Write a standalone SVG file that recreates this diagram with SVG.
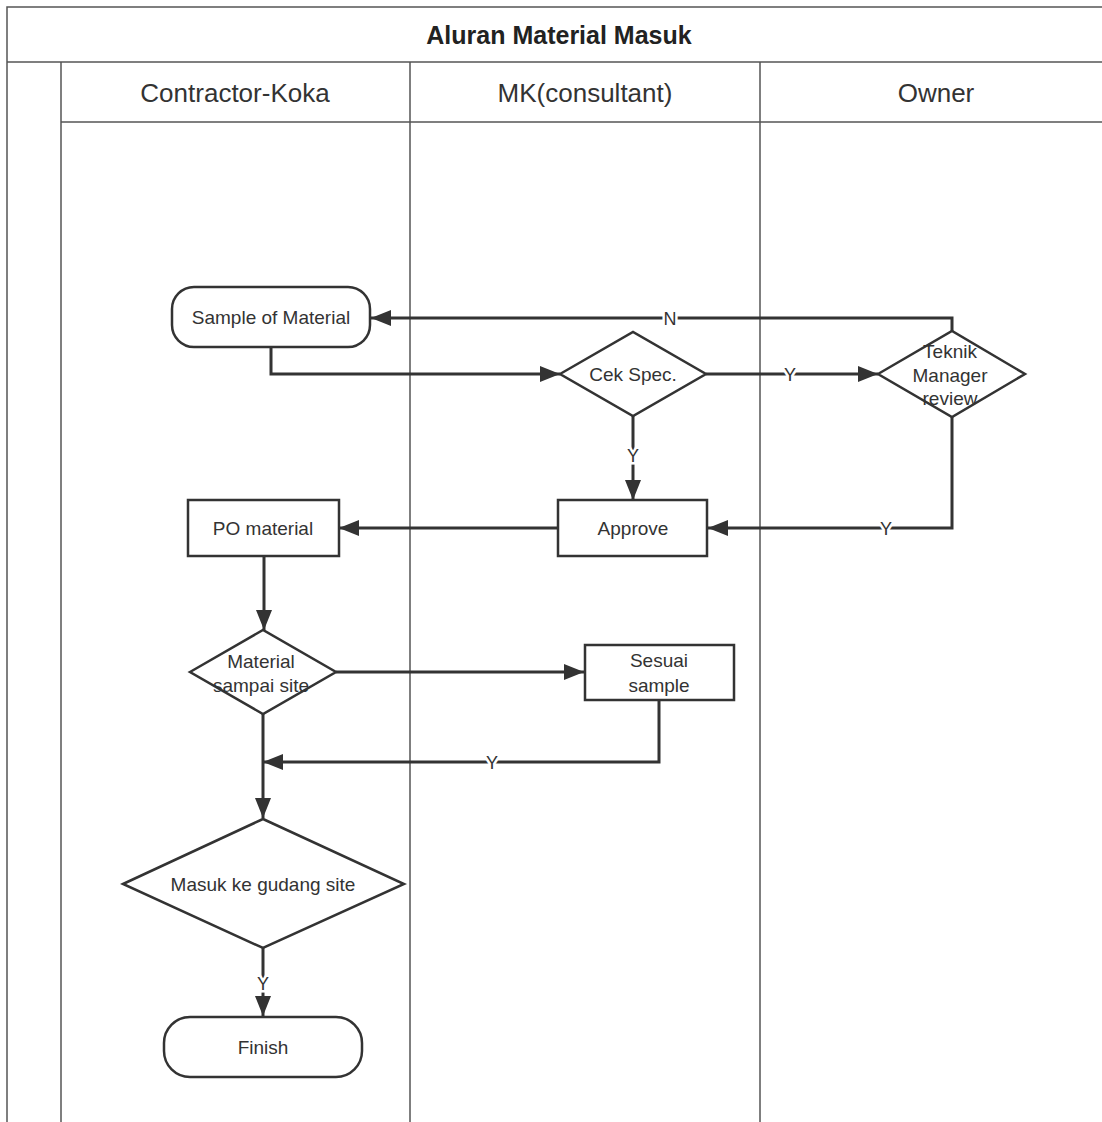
<svg xmlns="http://www.w3.org/2000/svg" width="1102" height="1122" viewBox="0 0 1102 1122">
<style>
.frame{fill:none;stroke:#555;stroke-width:1.5}
.node{fill:#fff;stroke:#333;stroke-width:2.5}
.conn{fill:none;stroke:#333;stroke-width:3}
.t{font-family:"Liberation Sans",Arial,sans-serif;font-size:19px;fill:#333;text-anchor:middle}
.h{font-family:"Liberation Sans",Arial,sans-serif;font-size:26px;fill:#333;text-anchor:middle}
.title{font-family:"Liberation Sans",Arial,sans-serif;font-size:25px;font-weight:bold;fill:#222;text-anchor:middle}
.lbl{font-family:"Liberation Sans",Arial,sans-serif;font-size:18px;fill:#333;text-anchor:middle;stroke:#fff;stroke-width:5;paint-order:stroke}
</style>
<defs>
<marker id="arr" markerUnits="userSpaceOnUse" markerWidth="20" markerHeight="16" viewBox="0 0 20 16" refX="20" refY="8" orient="auto">
<path d="M0,0 L20,8 L0,16 Z" fill="#333"/>
</marker>
</defs>
<rect width="1102" height="1122" fill="#fff"/>
<g id="pool">
<rect class="frame" x="7" y="7" width="1110" height="1130"/>
<line class="frame" x1="7" y1="62" x2="1110" y2="62"/>
<line class="frame" x1="61" y1="62" x2="61" y2="1122"/>
<line class="frame" x1="61" y1="122" x2="1110" y2="122"/>
<line class="frame" x1="410" y1="62" x2="410" y2="1122"/>
<line class="frame" x1="760" y1="62" x2="760" y2="1122"/>
<text class="title" x="559" y="44">Aluran Material Masuk</text>
<text class="h" x="235" y="102">Contractor-Koka</text>
<text class="h" x="585" y="102">MK(consultant)</text>
<text class="h" x="936" y="102">Owner</text>
</g>
<g id="connectors">
<path class="conn" d="M271,347 V374 H560" marker-end="url(#arr)"/>
<path class="conn" d="M706,374 H878" marker-end="url(#arr)"/>
<path class="conn" d="M952,331 V318 H371" marker-end="url(#arr)"/>
<path class="conn" d="M633,416 V500" marker-end="url(#arr)"/>
<path class="conn" d="M952,417 V528 H708" marker-end="url(#arr)"/>
<path class="conn" d="M558,528 H339" marker-end="url(#arr)"/>
<path class="conn" d="M264,556 V630" marker-end="url(#arr)"/>
<path class="conn" d="M336,672 H584" marker-end="url(#arr)"/>
<path class="conn" d="M659,700 V762 H263" marker-end="url(#arr)"/>
<path class="conn" d="M263,714 V818" marker-end="url(#arr)"/>
<path class="conn" d="M263,948 V1016" marker-end="url(#arr)"/>
<text class="lbl" x="670" y="325">N</text>
<text class="lbl" x="790" y="381">Y</text>
<text class="lbl" x="633" y="462">Y</text>
<text class="lbl" x="886" y="535">Y</text>
<text class="lbl" x="492" y="769">Y</text>
<text class="lbl" x="263" y="990">Y</text>
</g>
<g id="sample">
<rect class="node" x="172" y="287" width="198" height="60" rx="22"/>
<text class="t" x="271" y="324">Sample of Material</text>
</g>
<g id="cekspec">
<polygon class="node" points="560,374 633,332 706,374 633,416"/>
<text class="t" x="633" y="381">Cek Spec.</text>
</g>
<g id="teknik">
<polygon class="node" points="878,374 952,331 1025,374 952,417"/>
<text class="t" x="950" y="358">Teknik</text>
<text class="t" x="950" y="382">Manager</text>
<text class="t" x="950" y="405">review</text>
</g>
<g id="approve">
<rect class="node" x="558" y="500" width="149" height="56"/>
<text class="t" x="633" y="535">Approve</text>
</g>
<g id="po">
<rect class="node" x="188" y="500" width="151" height="56"/>
<text class="t" x="263" y="535">PO material</text>
</g>
<g id="sampai">
<polygon class="node" points="190,672 263,630 336,672 263,714"/>
<text class="t" x="261" y="668">Material</text>
<text class="t" x="261" y="692">sampai site</text>
</g>
<g id="sesuai">
<rect class="node" x="585" y="645" width="149" height="55"/>
<text class="t" x="659" y="667">Sesuai</text>
<text class="t" x="659" y="692">sample</text>
</g>
<g id="masuk">
<polygon class="node" points="123,884 263,819 404,884 263,948"/>
<text class="t" x="263" y="891">Masuk ke gudang site</text>
</g>
<g id="finish">
<rect class="node" x="164" y="1017" width="198" height="60" rx="26"/>
<text class="t" x="263" y="1054">Finish</text>
</g>
</svg>
